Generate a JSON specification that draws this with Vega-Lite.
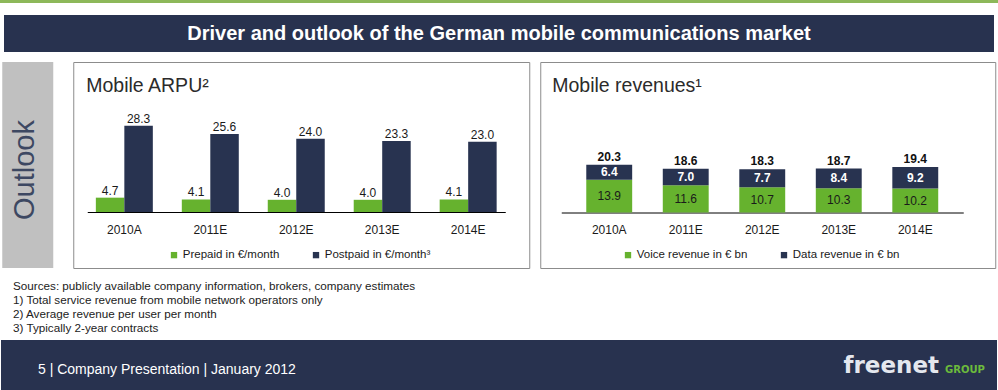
{
  "$schema": "https://vega.github.io/schema/vega-lite/v6.json",
  "padding": 0,
  "background": "white",
  "config": {
    "font": "Liberation Sans",
    "view": {"stroke": null},
    "axis": {"grid": false},
    "title": {"fontWeight": "normal"}
  },
  "datasets": {
    "arpu": [
      {"year": "2010A", "series": "Prepaid in €/month", "value": 4.7},
      {"year": "2010A", "series": "Postpaid in €/month³", "value": 28.3},
      {"year": "2011E", "series": "Prepaid in €/month", "value": 4.1},
      {"year": "2011E", "series": "Postpaid in €/month³", "value": 25.6},
      {"year": "2012E", "series": "Prepaid in €/month", "value": 4.0},
      {"year": "2012E", "series": "Postpaid in €/month³", "value": 24.0},
      {"year": "2013E", "series": "Prepaid in €/month", "value": 4.0},
      {"year": "2013E", "series": "Postpaid in €/month³", "value": 23.3},
      {"year": "2014E", "series": "Prepaid in €/month", "value": 4.1},
      {"year": "2014E", "series": "Postpaid in €/month³", "value": 23.0}
    ],
    "rev": [
      {"year": "2010A", "series": "Voice revenue in € bn", "value": 13.9},
      {"year": "2010A", "series": "Data revenue in € bn", "value": 6.4},
      {"year": "2011E", "series": "Voice revenue in € bn", "value": 11.6},
      {"year": "2011E", "series": "Data revenue in € bn", "value": 7.0},
      {"year": "2012E", "series": "Voice revenue in € bn", "value": 10.7},
      {"year": "2012E", "series": "Data revenue in € bn", "value": 7.7},
      {"year": "2013E", "series": "Voice revenue in € bn", "value": 10.3},
      {"year": "2013E", "series": "Data revenue in € bn", "value": 8.4},
      {"year": "2014E", "series": "Voice revenue in € bn", "value": 10.2},
      {"year": "2014E", "series": "Data revenue in € bn", "value": 9.2}
    ],
    "revTotal": [
      {"year": "2010A", "total": 20.3},
      {"year": "2011E", "total": 18.6},
      {"year": "2012E", "total": 18.3},
      {"year": "2013E", "total": 18.7},
      {"year": "2014E", "total": 19.4}
    ]
  },
  "spacing": 12,
  "center": true,
  "vconcat": [
    {
      "width": 998,
      "height": 3,
      "data": {"values": [{}]},
      "mark": {"type": "rect", "color": "#8db85a"},
      "encoding": {}
    },
    {
      "spacing": 9,
      "center": true,
      "vconcat": [
        {
          "width": 990,
          "height": 37,
          "view": {"fill": "#28324f"},
          "data": {"values": [{"t": "Driver and outlook of the German mobile communications market"}]},
          "mark": {"type": "text", "color": "#ffffff", "fontSize": 20, "fontWeight": "bold", "align": "center", "baseline": "middle"},
          "encoding": {"text": {"field": "t", "type": "nominal"}}
        },
        {
          "spacing": 11,
          "center": true,
          "vconcat": [
            {
              "spacing": 19,
              "resolve": {"scale": {"color": "independent"}, "legend": {"color": "independent"}},
              "hconcat": [
                {
                  "width": 51,
                  "height": 206,
                  "view": {"fill": "#c0c0c0"},
                  "data": {"values": [{"t": "Outlook"}]},
                  "mark": {"type": "text", "angle": 270, "fontSize": 29, "color": "#3d4862", "align": "center", "baseline": "middle", "dx": -5, "dy": -3},
                  "encoding": {"text": {"field": "t", "type": "nominal"}}
                },
                {
                  "spacing": 9,
                  "resolve": {"scale": {"color": "independent"}, "legend": {"color": "independent"}},
                  "hconcat": [
                    {
                      "width": 456,
                      "height": 206,
                      "view": {"stroke": "#8c8c8c", "strokeWidth": 1},
                      "title": {"text": "Mobile ARPU²", "anchor": "start", "frame": "group", "orient": "top", "offset": -34, "dx": 13, "fontSize": 19.5, "fontWeight": "normal", "color": "#2b2b2b"},
                      "data": {"name": "arpu"},
                      "encoding": {
                        "x": {
                          "field": "year", "type": "nominal", "sort": null,
                          "scale": {"range": [14, 432], "paddingInner": 0.337, "paddingOuter": 0.1},
                          "axis": {"orient": "bottom", "offset": -56, "title": null, "labelAngle": 0, "domainColor": "#000000", "domainWidth": 1, "ticks": false, "tickSize": 0, "labelPadding": 12, "labelFontSize": 12, "labelColor": "#1a1a1a"}
                        },
                        "xOffset": {"field": "series", "type": "nominal", "sort": ["Prepaid in €/month", "Postpaid in €/month³"], "scale": {"paddingInner": 0, "paddingOuter": 0}},
                        "y": {"field": "value", "type": "quantitative", "scale": {"domain": [0, 30], "range": [150, 58.5], "nice": false, "zero": true}, "axis": null}
                      },
                      "layer": [
                        {
                          "mark": {"type": "bar"},
                          "encoding": {
                            "color": {
                              "field": "series", "type": "nominal",
                              "scale": {"domain": ["Prepaid in €/month", "Postpaid in €/month³"], "range": ["#66b22e", "#283350"]},
                              "legend": {"orient": "none", "legendX": 95, "legendY": 187, "direction": "horizontal", "title": null, "symbolType": "square", "symbolSize": 40, "symbolStrokeWidth": 0, "labelFontSize": 11.5, "labelColor": "#1a1a1a", "labelOffset": 3, "columnPadding": 30, "padding": 0}
                            }
                          }
                        },
                        {
                          "mark": {"type": "text", "baseline": "alphabetic", "dy": -3, "fontSize": 12, "color": "#1a1a1a"},
                          "encoding": {"text": {"field": "value", "type": "quantitative", "format": ".1f"}}
                        }
                      ]
                    },
                    {
                      "width": 455,
                      "height": 206,
                      "view": {"stroke": "#8c8c8c", "strokeWidth": 1},
                      "title": {"text": "Mobile revenues¹", "anchor": "start", "frame": "group", "orient": "top", "offset": -34, "dx": 12, "fontSize": 19.5, "fontWeight": "normal", "color": "#2b2b2b"},
                      "encoding": {
                        "x": {
                          "field": "year", "type": "nominal", "sort": null,
                          "scale": {"range": [21, 423], "paddingInner": 0.4, "paddingOuter": 0.327},
                          "axis": {"orient": "bottom", "offset": -55.5, "title": null, "labelAngle": 0, "domainColor": "#000000", "domainWidth": 1, "ticks": false, "tickSize": 0, "labelPadding": 12, "labelFontSize": 12, "labelColor": "#1a1a1a"}
                        }
                      },
                      "layer": [
                        {
                          "data": {"name": "rev"},
                          "mark": {"type": "bar"},
                          "encoding": {
                            "y": {"field": "value", "type": "quantitative", "stack": "zero", "scale": {"domain": [0, 25], "range": [150.5, 91.75], "nice": false, "zero": true}, "axis": null},
                            "order": {"field": "series", "sort": "descending"},
                            "color": {
                              "field": "series", "type": "nominal",
                              "scale": {"domain": ["Voice revenue in € bn", "Data revenue in € bn"], "range": ["#66b22e", "#283350"]},
                              "legend": {"orient": "none", "legendX": 82, "legendY": 187, "direction": "horizontal", "title": null, "symbolType": "square", "symbolSize": 40, "symbolStrokeWidth": 0, "labelFontSize": 11.5, "labelColor": "#1a1a1a", "labelOffset": 3, "columnPadding": 30, "padding": 0}
                            }
                          }
                        },
                        {
                          "data": {"name": "rev"},
                          "mark": {"type": "text", "baseline": "middle", "fontSize": 12, "fontWeight": "bold", "color": "#ffffff"},
                          "encoding": {
                            "y": {"field": "value", "type": "quantitative", "stack": "zero", "bandPosition": 0.5, "scale": {"domain": [0, 25], "range": [150.5, 91.75], "nice": false, "zero": true}, "axis": null},
                            "detail": {"field": "series", "type": "nominal"},
                            "order": {"field": "series", "sort": "descending"},
                            "text": {"field": "value", "type": "quantitative", "format": ".1f"},
                            "opacity": {"condition": {"test": "datum.series === 'Data revenue in € bn'", "value": 1}, "value": 0}
                          }
                        },
                        {
                          "data": {"name": "rev"},
                          "mark": {"type": "text", "baseline": "middle", "fontSize": 12, "fontWeight": "normal", "color": "#1a1a1a"},
                          "encoding": {
                            "y": {"field": "value", "type": "quantitative", "stack": "zero", "bandPosition": 0.5, "scale": {"domain": [0, 25], "range": [150.5, 91.75], "nice": false, "zero": true}, "axis": null},
                            "detail": {"field": "series", "type": "nominal"},
                            "order": {"field": "series", "sort": "descending"},
                            "text": {"field": "value", "type": "quantitative", "format": ".1f"},
                            "opacity": {"condition": {"test": "datum.series === 'Voice revenue in € bn'", "value": 1}, "value": 0}
                          }
                        },
                        {
                          "data": {"name": "revTotal"},
                          "mark": {"type": "text", "baseline": "alphabetic", "dy": -4, "fontSize": 12, "fontWeight": "bold", "color": "#111111"},
                          "encoding": {
                            "y": {"field": "total", "type": "quantitative", "scale": {"domain": [0, 25], "range": [150.5, 91.75], "nice": false, "zero": true}, "axis": null},
                            "text": {"field": "total", "type": "quantitative", "format": ".1f"}
                          }
                        }
                      ]
                    }
                  ]
                }
              ]
            },
            {
              "spacing": 0,
              "title": {
                "text": ["Sources: publicly available company information, brokers, company estimates", "1) Total service revenue from mobile network operators only", "2) Average revenue per user per month", "3) Typically 2-year contracts"],
                "anchor": "start", "orient": "top", "frame": "group", "offset": 5, "dx": 12, "fontSize": 11.7, "lineHeight": 14.2, "color": "#222222", "fontWeight": "normal"
              },
              "hconcat": [
                {
                  "width": 700,
                  "height": 53,
                  "title": {"text": "5 | Company Presentation | January 2012", "anchor": "start", "frame": "group", "orient": "top", "offset": -37, "dx": 37, "fontSize": 14, "color": "#ffffff", "fontWeight": "normal"},
                  "data": {"values": [{}]},
                  "mark": {"type": "rect", "color": "#28324f"},
                  "encoding": {}
                },
                {
                  "width": 242,
                  "height": 53,
                  "title": {"text": "freenet", "anchor": "end", "frame": "group", "orient": "top", "offset": -37.6, "dx": -4, "fontSize": 23, "font": "DejaVu Sans", "fontWeight": "bold", "color": "#e4e7ee"},
                  "data": {"values": [{}]},
                  "mark": {"type": "rect", "color": "#28324f"},
                  "encoding": {}
                },
                {
                  "width": 54,
                  "height": 53,
                  "title": {"text": "GROUP", "anchor": "start", "frame": "group", "orient": "top", "offset": -35, "dx": 2, "fontSize": 10, "font": "DejaVu Sans", "fontWeight": "bold", "color": "#6cbb3c"},
                  "data": {"values": [{}]},
                  "mark": {"type": "rect", "color": "#28324f"},
                  "encoding": {}
                }
              ]
            }
          ]
        }
      ]
    }
  ]
}
